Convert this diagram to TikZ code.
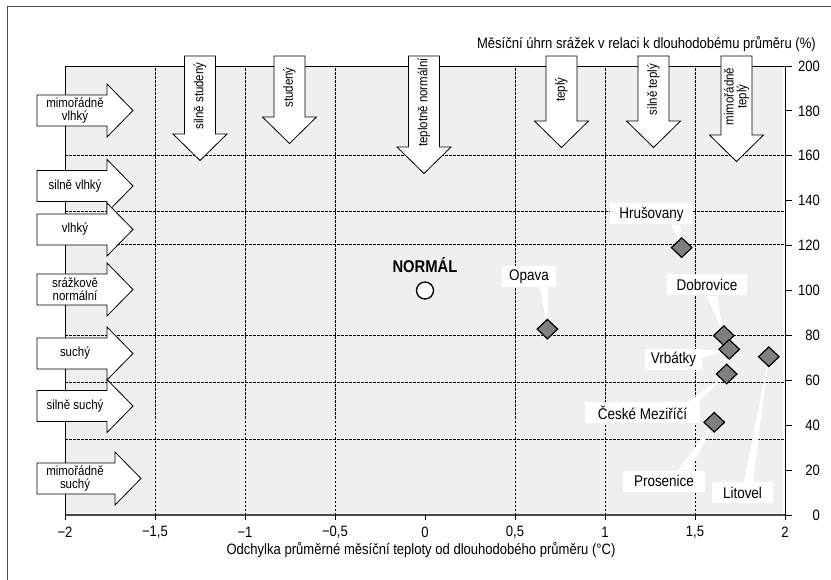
\documentclass[tikz,border=0pt]{standalone}
\usepackage{fontspec}
\setmainfont{Liberation Sans}[FakeStretch=0.87]
\usetikzlibrary{shapes.geometric}
\definecolor{plotgray}{HTML}{EEEFEE}
\definecolor{pointgray}{HTML}{7F7F7F}
\definecolor{framegray}{HTML}{4A4A4A}
\tikzset{
  gridline/.style={black, dash pattern=on 2.5pt off 1.5pt, line width=0.6pt},
  classarrow/.style={draw=black, fill=white, line width=0.8pt},
  classtext/.style={font=\fontsize{13.2}{12.6}\selectfont, align=center, inner sep=0pt},
  ticklabel/.style={font=\fontsize{15}{17}\selectfont, inner sep=0pt},
  axistitle/.style={font=\fontsize{15}{17}\selectfont, inner sep=0pt},
  station/.style={diamond, draw=black, fill=pointgray, line width=1.2pt, minimum width=21pt, minimum height=20pt, inner sep=0pt},
  stationlabel/.style={fill=white, font=\fontsize{15.5}{17}\selectfont, inner xsep=0pt, inner ysep=0pt, minimum height=21pt},
  callout/.style={fill=white}
}

\begin{document}
\begin{tikzpicture}[x=1pt, y=-1pt]
  \useasboundingbox (0,0) rectangle (831,580);
  \draw[framegray, line width=1pt] (7,580) -- (7,7) -- (831,7);
  \fill[plotgray] (65,66) rectangle (783,515);
  \begin{scope}[shift={(425,515)}, x=180pt, y=2.245pt]
    \foreach \t in {-1.5,-1,-0.5,0.5,1,1.5}{\draw[gridline] (\t,0) -- (\t,200);}
    \foreach \p in {33.5,59,80,120.5,135.5,160}{\draw[gridline] (-2,\p) -- (2,\p);}
    \draw[black, line width=0.8pt] (-2,0) -- (-2,200) -- (2,200);
    \draw[framegray, line width=1.3pt] (-2,0) -- (2,0);
    \draw[black, line width=1pt] (2,0) -- (2,200);
    \foreach \t/\lab [count=\i] in {-2/{−2},-1.5/{−1,5},-1/{−1},-0.5/{−0,5},0/0,0.5/{0,5},1/1,1.5/{1,5},2/2}{
      \draw[black, line width=0.8pt] (\t,0) -- ++(0pt,-5pt);
      \node[ticklabel] (xtick\i) at ([yshift=-17pt]\t,0) {\lab};
    }
    \foreach \p [count=\i] in {0,20,...,200}{
      \draw[black, line width=0.8pt] (2,\p) -- ++(7pt,0pt);
      \node[ticklabel, anchor=east] (ytick\i) at ([xshift=35pt]2,\p) {\p};
    }
    % stations
    \coordinate (p-hrus) at (1.426,119.1);
    \coordinate (p-opava) at (0.68,82.8);
    \coordinate (p-dobro) at (1.66,79.9);
    \coordinate (p-vrbat) at (1.69,73.8);
    \coordinate (p-litov) at (1.91,70.5);
    \coordinate (p-cesk) at (1.676,62.8);
    \coordinate (p-prosen) at (1.607,41.3);
    \coordinate (normal) at (0,100);
  \end{scope}
  \node[axistitle, anchor=east] (ytitle) at (816,44) {Měsíční úhrn srážek v relaci k dlouhodobému průměru (\%)};
  \node[axistitle] (xtitle) at (421,550) {Odchylka průměrné měsíční teploty od dlouhodobého průměru (°C)};

  % labels and callouts
  \coordinate (l-hrus) at (651.5,214);
  \coordinate (l-opava) at (529,276.5);
  \coordinate (l-dobro) at (707,285);
  \coordinate (l-vrbat) at (673.5,359.5);
  \coordinate (l-cesk) at (642.5,412.5);
  \coordinate (l-prosen) at (664,481);
  \coordinate (l-litov) at (742.5,492.5);
  \fill[callout] ([shift={(20,11)}]l-hrus) -- ([shift={(29,11)}]l-hrus) -- (p-hrus) -- cycle;
  \fill[callout] ([shift={(11,10.5)}]l-opava) -- ([shift={(19,10.5)}]l-opava) -- (p-opava) -- cycle;
  \fill[callout] ([shift={(0,11)}]l-dobro) -- ([shift={(10,11)}]l-dobro) -- (p-dobro) -- cycle;
  \fill[callout] ([shift={(28.5,-9.5)}]l-vrbat) -- ([shift={(28.5,-1.5)}]l-vrbat) -- (p-vrbat) -- cycle;
  \fill[callout] ([shift={(45.5,-10.5)}]l-cesk) -- ([shift={(55.5,-10.5)}]l-cesk) -- (p-cesk) -- cycle;
  \fill[callout] ([shift={(14,-11)}]l-prosen) -- ([shift={(26,-11)}]l-prosen) -- (p-prosen) -- cycle;
  \fill[callout] ([shift={(1.5,-10.5)}]l-litov) -- ([shift={(10.5,-10.5)}]l-litov) -- (p-litov) -- cycle;
  \node[stationlabel, minimum width=83pt] (hrus) at (l-hrus) {Hrušovany};
  \node[stationlabel, minimum width=54pt] (opava) at (l-opava) {Opava};
  \node[stationlabel, minimum width=80pt] (dobro) at (l-dobro) {Dobrovice};
  \node[stationlabel, minimum width=57pt] (vrbat) at (l-vrbat) {Vrbátky};
  \node[stationlabel, minimum width=115pt] (cesk) at (l-cesk) {České Meziříčí};
  \node[stationlabel, minimum width=82pt] (prosen) at (l-prosen) {Prosenice};
  \node[stationlabel, minimum width=61pt] (litov) at (l-litov) {Litovel};
  \foreach \s in {hrus,opava,dobro,vrbat,litov,cesk,prosen}{
    \node[station] (d-\s) at (p-\s) {};
  }
  \node[circle, draw=black, fill=white, line width=1.3pt, minimum size=17pt, inner sep=0pt] (normalpt) at (normal) {};
  \node[font=\bfseries\fontsize{17}{19}\selectfont, inner sep=0pt] (normaltxt) at (425,265) {NORMÁL};

  % temperature classes
  \foreach \cx/\hy/\txt [count=\i] in {200/134/{silně studený}, 289.5/117/{studený}, 424/147/{teplotně normální}, 561.5/121/{teplý}, 653.5/121/{silně teplý}, 736.5/135/{mimořádně\\teplý}}{
    \draw[classarrow] (\cx-15.5,56) -- (\cx+15.5,56) -- (\cx+15.5,\hy) -- (\cx+27,\hy) -- (\cx,\hy+26.5) -- (\cx-27,\hy) -- (\cx-15.5,\hy) -- cycle;
    \node[classtext, rotate=90] (temp\i) at (\cx,{(58+\hy)/2}) {\txt};
  }
  % precipitation classes
  \foreach \cy/\hx/\txt [count=\i] in {110.5/107/{mimořádně\\vlhký}, 186/107/{silně vlhký}, 229.5/107/{vlhký}, 289.5/107/{srážkově\\normální}, 353.5/107/{suchý}, 406/107/{silně suchý}, 478.5/115/{mimořádně\\suchý}}{
    \draw[classarrow] (37,\cy-15.5) -- (\hx,\cy-15.5) -- (\hx,\cy-26.5) -- (\hx+26,\cy) -- (\hx,\cy+26.5) -- (\hx,\cy+15.5) -- (37,\cy+15.5) -- cycle;
    \node[classtext] (prec\i) at (75,\cy) {\txt};
  }
\end{tikzpicture}
\end{document}
